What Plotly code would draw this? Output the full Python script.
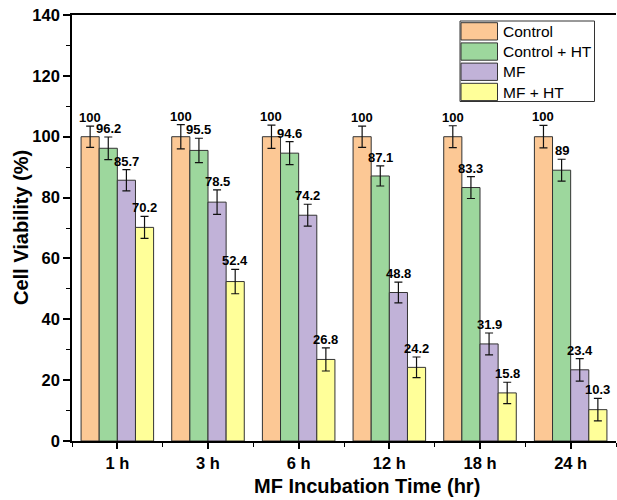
import plotly.graph_objects as go

categories = ["1 h", "3 h", "6 h", "12 h", "18 h", "24 h"]
series_names = ["Control", "Control + HT", "MF", "MF + HT"]
control = [100, 100, 100, 100, 100, 100]
control_ht = [96.2, 95.5, 94.6, 87.1, 83.3, 89]
mf = [85.7, 78.5, 74.2, 48.8, 31.9, 23.4]
mf_ht = [70.2, 52.4, 26.8, 24.2, 15.8, 10.3]
control_err = [3.5, 4.0, 3.8, 3.5, 3.6, 3.7]
control_ht_err = [3.7, 4.0, 3.8, 3.3, 3.6, 3.6]
mf_err = [3.5, 4.0, 3.6, 3.4, 3.6, 3.7]
mf_ht_err = [3.6, 4.0, 3.8, 3.4, 3.5, 3.7]
colors = ["#FCC895", "#9DD79D", "#C1B2D8", "#FFFF99"]

values = [control, control_ht, mf, mf_ht]
errors = [control_err, control_ht_err, mf_err, mf_ht_err]
xs = list(range(len(categories)))

FONT = "Arial, 'Liberation Sans', sans-serif"
W, H = 617, 500
L, R, T, B = 72, 1, 15, 59
pw, ph = W - L - R, H - T - B

def px_x(p):
    return (p - L) / pw

def px_y(p):
    return (H - B - p) / ph

fig = go.Figure()
bargap = 0.2
bw = (1 - bargap) / len(series_names)
annotations = []
for k, (name, vals, errs, col) in enumerate(zip(series_names, values, errors, colors)):
    fig.add_trace(go.Bar(
        x=xs, y=vals, name=name,
        marker=dict(color=col, line=dict(color="#333333", width=1)),
        error_y=dict(type="data", array=errs, visible=True, color="#111111",
                     thickness=1.2, width=4),
        showlegend=False,
    ))
    off = -(1 - bargap) / 2 + bw * (k + 0.5)
    for i, (v, e) in enumerate(zip(vals, errs)):
        annotations.append(dict(
            x=i + off, y=v + e, xref="x", yref="y", text=f"{v:g}",
            showarrow=False, yanchor="bottom", xanchor="center", yshift=-1,
            font=dict(family=FONT, size=13, color="black", weight="bold"),
        ))

# custom legend
shapes = []
lx0, lx1, ly0, ly1 = 460, 594.5, 21, 101.5
shapes.append(dict(type="rect", xref="paper", yref="paper",
                   x0=px_x(lx0), x1=px_x(lx1), y0=px_y(ly1), y1=px_y(ly0),
                   line=dict(color="#333333", width=1), fillcolor="white", layer="above"))
for k, (name, col) in enumerate(zip(series_names, colors)):
    top = 22.7 + 20.2 * k
    shapes.append(dict(type="rect", xref="paper", yref="paper",
                       x0=px_x(461), x1=px_x(497.5), y0=px_y(top + 17.3), y1=px_y(top),
                       line=dict(color="#333333", width=1), fillcolor=col, layer="above"))
    annotations.append(dict(
        x=px_x(500.5), y=px_y(top + 8.7), xref="paper", yref="paper", text=name,
        showarrow=False, xanchor="left", yanchor="middle",
        font=dict(family=FONT, size=15.5, color="black"),
    ))

annotations.append(dict(
    x=px_x(367), y=px_y(486), xref="paper", yref="paper",
    text="MF Incubation Time (hr)", showarrow=False, xanchor="center", yanchor="middle",
    font=dict(family=FONT, size=20, color="black", weight="bold"),
))
annotations.append(dict(
    x=px_x(21), y=px_y(228), xref="paper", yref="paper", textangle=-90,
    text="Cell Viability (%)", showarrow=False, xanchor="center", yanchor="middle",
    font=dict(family=FONT, size=20, color="black", weight="bold"),
))

fig.update_layout(
    width=W, height=H,
    margin=dict(l=L, r=R, t=T, b=B, pad=0),
    paper_bgcolor="white", plot_bgcolor="white",
    barmode="group", bargap=bargap, bargroupgap=0,
    showlegend=False,
    annotations=annotations, shapes=shapes,
    xaxis=dict(
        range=[-0.5, len(categories) - 0.5],
        tickmode="array", tickvals=xs, ticktext=categories,
        ticks="outside", ticklen=6, tickwidth=1.5, tickcolor="black",
        minor=dict(tickmode="linear", tick0=-0.5, dtick=1, ticks="outside",
                   ticklen=4, tickwidth=1.2, tickcolor="black"),
        showline=True, linecolor="black", linewidth=1.6, mirror=True,
        showgrid=False, zeroline=False,
        tickfont=dict(family=FONT, size=16.5, color="black", weight="bold"),
    ),
    yaxis=dict(
        range=[0, 140], tickmode="linear", tick0=0, dtick=20,
        ticks="outside", ticklen=7, tickwidth=1.5, tickcolor="black",
        minor=dict(dtick=10, ticks="outside", ticklen=4, tickwidth=1.2, tickcolor="black"),
        showline=True, linecolor="black", linewidth=1.6,
        showgrid=False, zeroline=False,
        tickfont=dict(family=FONT, size=16.5, color="black", weight="bold"),
    ),
    yaxis2=dict(
        overlaying="y", side="right", range=[0, 140], tickmode="linear", tick0=0, dtick=20,
        ticks="inside", ticklen=6, tickwidth=1.5, tickcolor="black",
        showticklabels=False, showline=True, linecolor="black", linewidth=1.6,
        showgrid=False, zeroline=False,
    ),
)

fig.write_html("out.html")
